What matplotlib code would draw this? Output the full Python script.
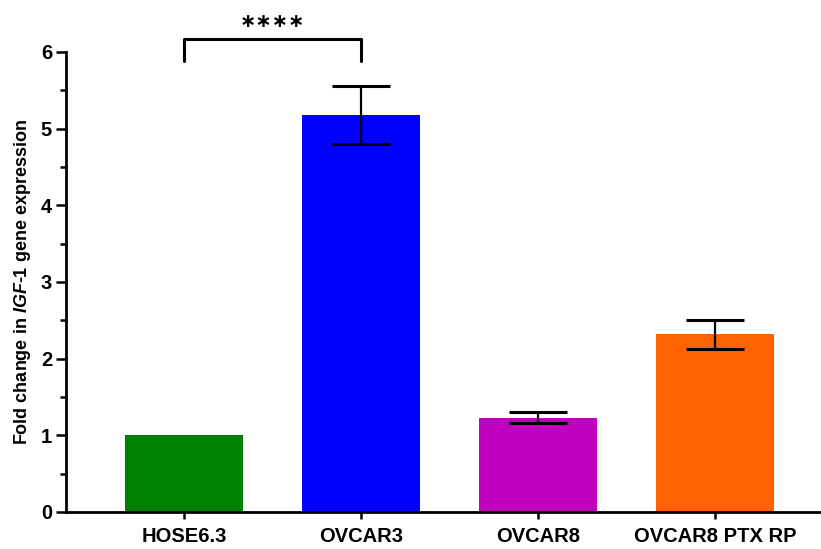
import numpy as np
import matplotlib.pyplot as plt
from matplotlib.ticker import MultipleLocator

plt.rcParams['font.family'] = ['Liberation Sans', 'DejaVu Sans']
plt.rcParams['mathtext.fontset'] = 'custom'
plt.rcParams['mathtext.it'] = 'Liberation Sans:italic:bold'
plt.rcParams['mathtext.rm'] = 'Liberation Sans:bold'

# data
groups = ['HOSE6.3', 'OVCAR3', 'OVCAR8', 'OVCAR8 PTX RP']
fold_change = [1.0, 5.18, 1.23, 2.32]
sem = [0.0, 0.38, 0.075, 0.19]
bar_colors = ['#008000', '#0000ff', '#bf00bf', '#ff6200']
sig_pair = (0, 1)
sig_label = '\u2217\u2217\u2217\u2217'

fig = plt.figure(figsize=(8.21, 5.49), dpi=100)
ax = fig.add_axes([0.0804, 0.0674, 0.9196, 0.838])

x = np.arange(len(groups))
ax.bar(x, fold_change, width=0.67, color=bar_colors, zorder=2)
for xi, v, e in zip(x, fold_change, sem):
    if e > 0:
        ax.errorbar(xi, v, yerr=e, fmt='none', ecolor='black',
                    elinewidth=1.6, capsize=21, capthick=2.2, zorder=3)

ax.set_xlim(-0.667, 3.6)
ax.set_ylim(0, 6)
ax.yaxis.set_major_locator(MultipleLocator(1))
ax.yaxis.set_minor_locator(MultipleLocator(0.5))
ax.set_xticks(x)
ax.set_xticklabels(groups, fontsize=14.5, fontweight='bold')
for lab in ax.get_yticklabels():
    lab.set_fontweight('bold')
ax.tick_params(axis='y', which='major', labelsize=14.5, length=7, width=1.8, pad=3)
ax.tick_params(axis='y', which='minor', length=4.5, width=1.8)
ax.tick_params(axis='x', length=5, width=1.8, pad=6)

for s in ['top', 'right']:
    ax.spines[s].set_visible(False)
for s in ['left', 'bottom']:
    ax.spines[s].set_linewidth(2)

ax.set_ylabel('Fold change in $IGF$-$1$ gene expression', fontsize=13,
              fontweight='bold', labelpad=6)

# significance bracket
x1, x2 = sig_pair
ytop, ylow = 6.17, 5.88
ax.plot([x1, x1, x2, x2], [ylow, ytop, ytop, ylow], color='black',
        lw=2.2, clip_on=False, solid_capstyle='round')
ax.text((x1 + x2) / 2, 6.4, sig_label, ha='center', va='center',
        fontsize=14, fontweight='bold', family='DejaVu Sans', clip_on=False)

fig.savefig('out.png', dpi=100)
